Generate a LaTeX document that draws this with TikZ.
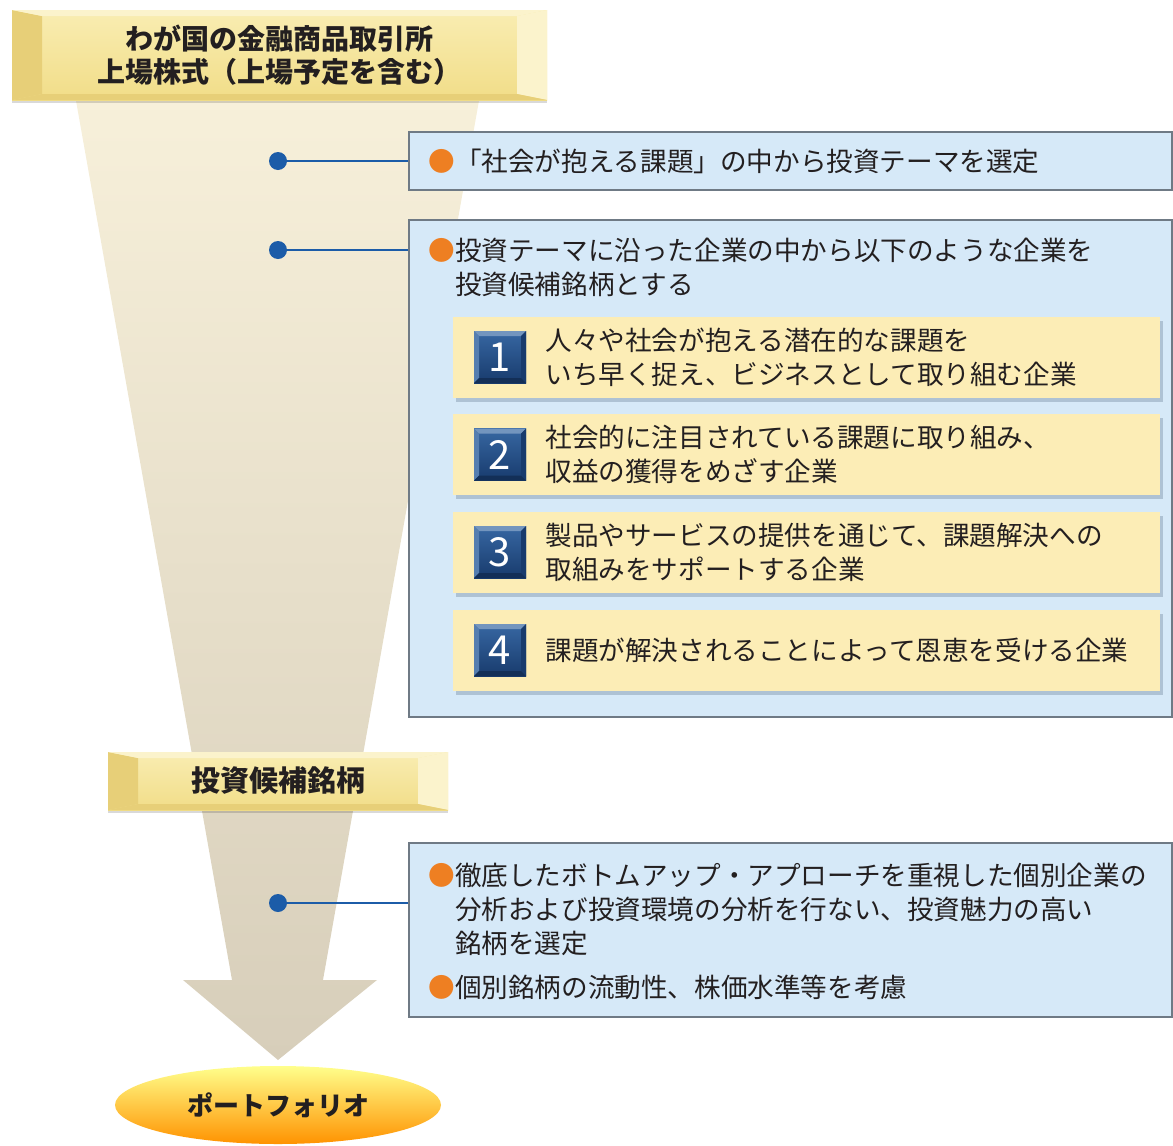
\documentclass[tikz,border=0pt]{standalone}
\usepackage{fontspec}
\setmainfont{Noto Sans CJK JP}
\usetikzlibrary{shapes.geometric,shadows}

\definecolor{inkc}{HTML}{231F20}
\definecolor{panelblue}{HTML}{D6E9F8}
\definecolor{panelline}{HTML}{6F7A85}
\definecolor{itemyellow}{HTML}{FCEDB6}
\definecolor{itemshadow}{HTML}{AEC2D4}
\definecolor{hubblue}{HTML}{1C5CA8}
\definecolor{bulletorange}{HTML}{EE7F22}
\definecolor{funneltop}{HTML}{F7F0DA}
\definecolor{funnelbot}{HTML}{D7CEBA}
\definecolor{goldhi}{HTML}{F9EDB2}
\definecolor{goldlo}{HTML}{F1DD88}
\definecolor{goldleft}{HTML}{E7CF78}
\definecolor{goldright}{HTML}{FBF3CC}
\definecolor{navyhi}{HTML}{3767A2}
\definecolor{navylo}{HTML}{183B6D}

\tikzset{
  panel/.style={draw=panelline, line width=0.75pt, fill=panelblue, minimum width=381.5pt, inner sep=0pt},
  itembox/.style={fill=itemyellow, minimum width=353.5pt, minimum height=40.5pt, inner sep=0pt,
    drop shadow={shadow xshift=1.5pt, shadow yshift=-2pt, fill=itemshadow, opacity=1}},
  hub/.style={circle, fill=hubblue, minimum size=9pt, inner sep=0pt},
  leader/.style={draw=hubblue, line width=1pt},
  bodytext/.style={font=\fontsize{13.3pt}{17pt}\selectfont, text=inkc, align=left, inner sep=0pt},
  goldbar/.style={inner sep=0pt, top color=goldhi, bottom color=goldlo, text=inkc,
    font=\fontsize{14pt}{16.5pt}\selectfont\bfseries, align=center,
    drop shadow={shadow xshift=0pt, shadow yshift=-1.5pt, fill=black, opacity=.15},
    path picture={
      \fill[goldleft] (path picture bounding box.north west) -- ([xshift=15pt,yshift=-3pt]path picture bounding box.north west)
        -- ([xshift=15pt,yshift=3pt]path picture bounding box.south west) -- (path picture bounding box.south west) -- cycle;
      \fill[goldright] (path picture bounding box.north east) -- ([xshift=-15pt,yshift=-3pt]path picture bounding box.north east)
        -- ([xshift=-15pt,yshift=3pt]path picture bounding box.south east) -- (path picture bounding box.south east) -- cycle;
      \fill[goldright] (path picture bounding box.north west) -- (path picture bounding box.north east)
        -- ([xshift=-15pt,yshift=-3pt]path picture bounding box.north east) -- ([xshift=15pt,yshift=-3pt]path picture bounding box.north west) -- cycle;
      \fill[goldleft] (path picture bounding box.south west) -- (path picture bounding box.south east)
        -- ([xshift=-15pt,yshift=3pt]path picture bounding box.south east) -- ([xshift=15pt,yshift=3pt]path picture bounding box.south west) -- cycle;
    }},
  numbox/.style={minimum size=26pt, inner sep=0pt, top color=navyhi, bottom color=navylo, text=white,
    font=\fontsize{20pt}{20pt}\selectfont,
    path picture={
      \fill[navyhi!70!white] (path picture bounding box.north west) -- (path picture bounding box.north east)
        -- ([xshift=-2.5pt,yshift=-2.5pt]path picture bounding box.north east) -- ([xshift=2.5pt,yshift=-2.5pt]path picture bounding box.north west) -- cycle;
      \fill[navyhi!85!white] (path picture bounding box.north west) -- ([xshift=2.5pt,yshift=-2.5pt]path picture bounding box.north west)
        -- ([xshift=2.5pt,yshift=2.5pt]path picture bounding box.south west) -- (path picture bounding box.south west) -- cycle;
      \fill[navylo] (path picture bounding box.north east) -- ([xshift=-2.5pt,yshift=-2.5pt]path picture bounding box.north east)
        -- ([xshift=-2.5pt,yshift=2.5pt]path picture bounding box.south east) -- (path picture bounding box.south east) -- cycle;
      \fill[navylo!80!black] (path picture bounding box.south west) -- (path picture bounding box.south east)
        -- ([xshift=-2.5pt,yshift=2.5pt]path picture bounding box.south east) -- ([xshift=2.5pt,yshift=2.5pt]path picture bounding box.south west) -- cycle;
    }},
}

\begin{document}
\begin{tikzpicture}[x=0.5pt, y=-0.5pt]
\useasboundingbox (0,0) rectangle (1173,1146);

% funnel and arrow
\shade[top color=funneltop, bottom color=funnelbot]
  (75,95) -- (480,95) -- (323,980) -- (377,980) -- (278,1060) -- (183,980) -- (232,980) -- cycle;

\node[goldbar, minimum width=267.5pt, minimum height=45pt] (market) at (279.5,55) {わが国の金融商品取引所\\上場株式（上場予定を含む）};
\node[goldbar, minimum width=170pt, minimum height=29pt, font=\fontsize{14.5pt}{16pt}\selectfont\bfseries] (cand) at (278,781) {投資候補銘柄};
\node[ellipse, minimum width=163pt, minimum height=39pt, inner sep=0pt, top color=yellow!45!white, middle color=orange!40!yellow, bottom color=orange!85!yellow,
  text=inkc, font=\fontsize{13pt}{15pt}\selectfont\bfseries] (port) at (278,1105) {ポートフォリオ};

\node[panel, minimum height=29pt] (box1) at (790.5,161) {};
\node[panel, minimum height=248.5pt] (box2) at (790.5,468.5) {};
\node[panel, minimum height=87pt] (box3) at (790.5,930) {};

\node[itembox] (item1) at (806.5,357) {};
\node[itembox] (item2) at (806.5,454.5) {};
\node[itembox] (item3) at (806.5,552) {};
\node[itembox] (item4) at (806.5,650) {};

\node[numbox] (n1) at (500,357) {1};
\node[numbox] (n2) at (500,454.5) {2};
\node[numbox] (n3) at (500,552) {3};
\node[numbox] (n4) at (500,650) {4};

\node[bodytext, anchor=west] (t1) at (428,161) {\textcolor{bulletorange}{●}「社会が抱える課題」の中から投資テーマを選定};
\node[bodytext, anchor=west] (t2) at (428,267.5) {\textcolor{bulletorange}{●}投資テーマに沿った企業の中から以下のような企業を\\\hspace*{1em}投資候補銘柄とする};
\node[bodytext, anchor=west] (s1) at (545,357) {人々や社会が抱える潜在的な課題を\\いち早く捉え、ビジネスとして取り組む企業};
\node[bodytext, anchor=west] (s2) at (545,454.5) {社会的に注目されている課題に取り組み、\\収益の獲得をめざす企業};
\node[bodytext, anchor=west] (s3) at (545,552) {製品やサービスの提供を通じて、課題解決への\\取組みをサポートする企業};
\node[bodytext, anchor=west] (s4) at (545,650) {課題が解決されることによって恩恵を受ける企業};
\node[bodytext, anchor=west] (t3) at (428,909.5) {\textcolor{bulletorange}{●}徹底したボトムアップ・アプローチを重視した個別企業の\\\hspace*{1em}分析および投資環境の分析を行ない、投資魅力の高い\\\hspace*{1em}銘柄を選定};
\node[bodytext, anchor=west] (t4) at (428,987) {\textcolor{bulletorange}{●}個別銘柄の流動性、株価水準等を考慮};

\node[hub] (h1) at (278,161) {};
\node[hub] (h2) at (278,250) {};
\node[hub] (h3) at (278,903) {};

\draw[leader] (h1) -- (box1.west);
\draw[leader] (h2) -- (h2 -| box2.west);
\draw[leader] (h3) -- (h3 -| box3.west);

\end{tikzpicture}
\end{document}
